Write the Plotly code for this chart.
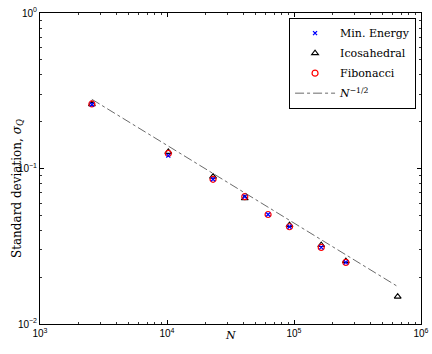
import plotly.graph_objects as go

# point counts
n_energy = [2562, 10242, 23042, 40962, 62500, 92162, 163842, 256002]
n_ico = [2562, 10242, 23042, 40962, 92162, 163842, 256002, 655362]
n_fib = [2562, 10242, 23042, 40962, 62500, 92162, 163842, 256002]

# standard deviation values
sig_energy = [0.258, 0.121, 0.0852, 0.0659, 0.0506, 0.0422, 0.0311, 0.0249]
sig_ico = [0.259, 0.128, 0.0886, 0.0643, 0.0433, 0.0322, 0.0254, 0.0150]
sig_fib = [0.260, 0.125, 0.0852, 0.0659, 0.0506, 0.0422, 0.0311, 0.0249]

# reference slope line N^-1/2 (end points)
n_ref = [2562, 655362]
sig_ref = [0.2786, 0.01742]

# tick labels
x_ticks = [1e3, 1e4, 1e5, 1e6]
x_labels = ["10<sup>3</sup>", "10<sup>4</sup>", "10<sup>5</sup>", "10<sup>6</sup>"]
y_ticks = [1e-2, 1e-1, 1e0]
y_labels = ["10<sup>−2</sup>", "10<sup>−1</sup>", "10<sup>0</sup>"]

serif = "DejaVu Serif"
sans = "Liberation Sans"


def minor_vals(lo, hi):
    return [m * 10 ** e for e in range(lo, hi) for m in range(2, 10)]


fig = go.Figure()

fig.add_trace(go.Scatter(x=n_ico, y=sig_ico, mode="markers", name="Icosahedral",
                         legendgroup="b", legendrank=2,
                         marker=dict(symbol="triangle-up-open", size=6, color="black",
                                     line=dict(width=1.1, color="black"))))
fig.add_trace(go.Scatter(x=n_fib, y=sig_fib, mode="markers", name="Fibonacci",
                         legendgroup="c", legendrank=3,
                         marker=dict(symbol="circle-open", size=6, color="red",
                                     line=dict(width=1.2, color="red"))))
fig.add_trace(go.Scatter(x=n_energy, y=sig_energy, mode="markers", name="Min. Energy",
                         legendgroup="a", legendrank=1,
                         marker=dict(symbol="x-thin-open", size=4, color="blue",
                                     line=dict(width=1.3, color="blue"))))
fig.add_trace(go.Scatter(x=n_ref, y=sig_ref, mode="lines", name="<i>N</i><sup>−1/2</sup>",
                         legendgroup="d", legendrank=4,
                         line=dict(color="#444444", width=0.8, dash="dashdot")))

axis_common = dict(
    type="log", showgrid=False, zeroline=False, automargin=False,
    showline=True, linecolor="black", linewidth=1, mirror="allticks",
    ticks="inside", ticklen=4, tickcolor="black",
    tickfont=dict(family=sans, size=10, color="black"),
)

fig.update_xaxes(range=[3, 6], tickmode="array", tickvals=x_ticks, ticktext=x_labels,
                 minor=dict(tickmode="array", tickvals=minor_vals(3, 6), ticks="inside",
                            ticklen=2, tickcolor="#333333", showgrid=False),
                 **axis_common)
fig.update_yaxes(range=[-2, 0], tickmode="array", tickvals=y_ticks, ticktext=y_labels,
                 minor=dict(tickmode="array", tickvals=minor_vals(-2, 0), ticks="inside",
                            ticklen=2, tickcolor="#333333", showgrid=False),
                 **axis_common)

# axis titles as annotations so they sit where the original puts them
fig.add_annotation(text="<i>N</i>", xref="paper", yref="paper", x=0.499, y=-0.064,
                   showarrow=False, font=dict(family=serif, size=11, color="black"))
fig.add_annotation(text="Standard deviation, <i>σ<sub>Q</sub></i>", xref="paper", yref="paper",
                   x=-0.084, y=0.437, textangle=-90, showarrow=False,
                   font=dict(family=serif, size=12, color="black"))

fig.update_layout(
    width=432, height=354,
    margin=dict(l=40, r=11, t=13, b=30),
    paper_bgcolor="white", plot_bgcolor="white",
    showlegend=True,
    legend=dict(x=0.987, y=0.985, xanchor="right", yanchor="top",
                bgcolor="white", bordercolor="black", borderwidth=1,
                font=dict(family=serif, size=11, color="black"),
                tracegroupgap=1, itemwidth=40),
)

fig.write_html("out.html", config={"displayModeBar": False},
               post_script="document.body.style.margin='0';")
